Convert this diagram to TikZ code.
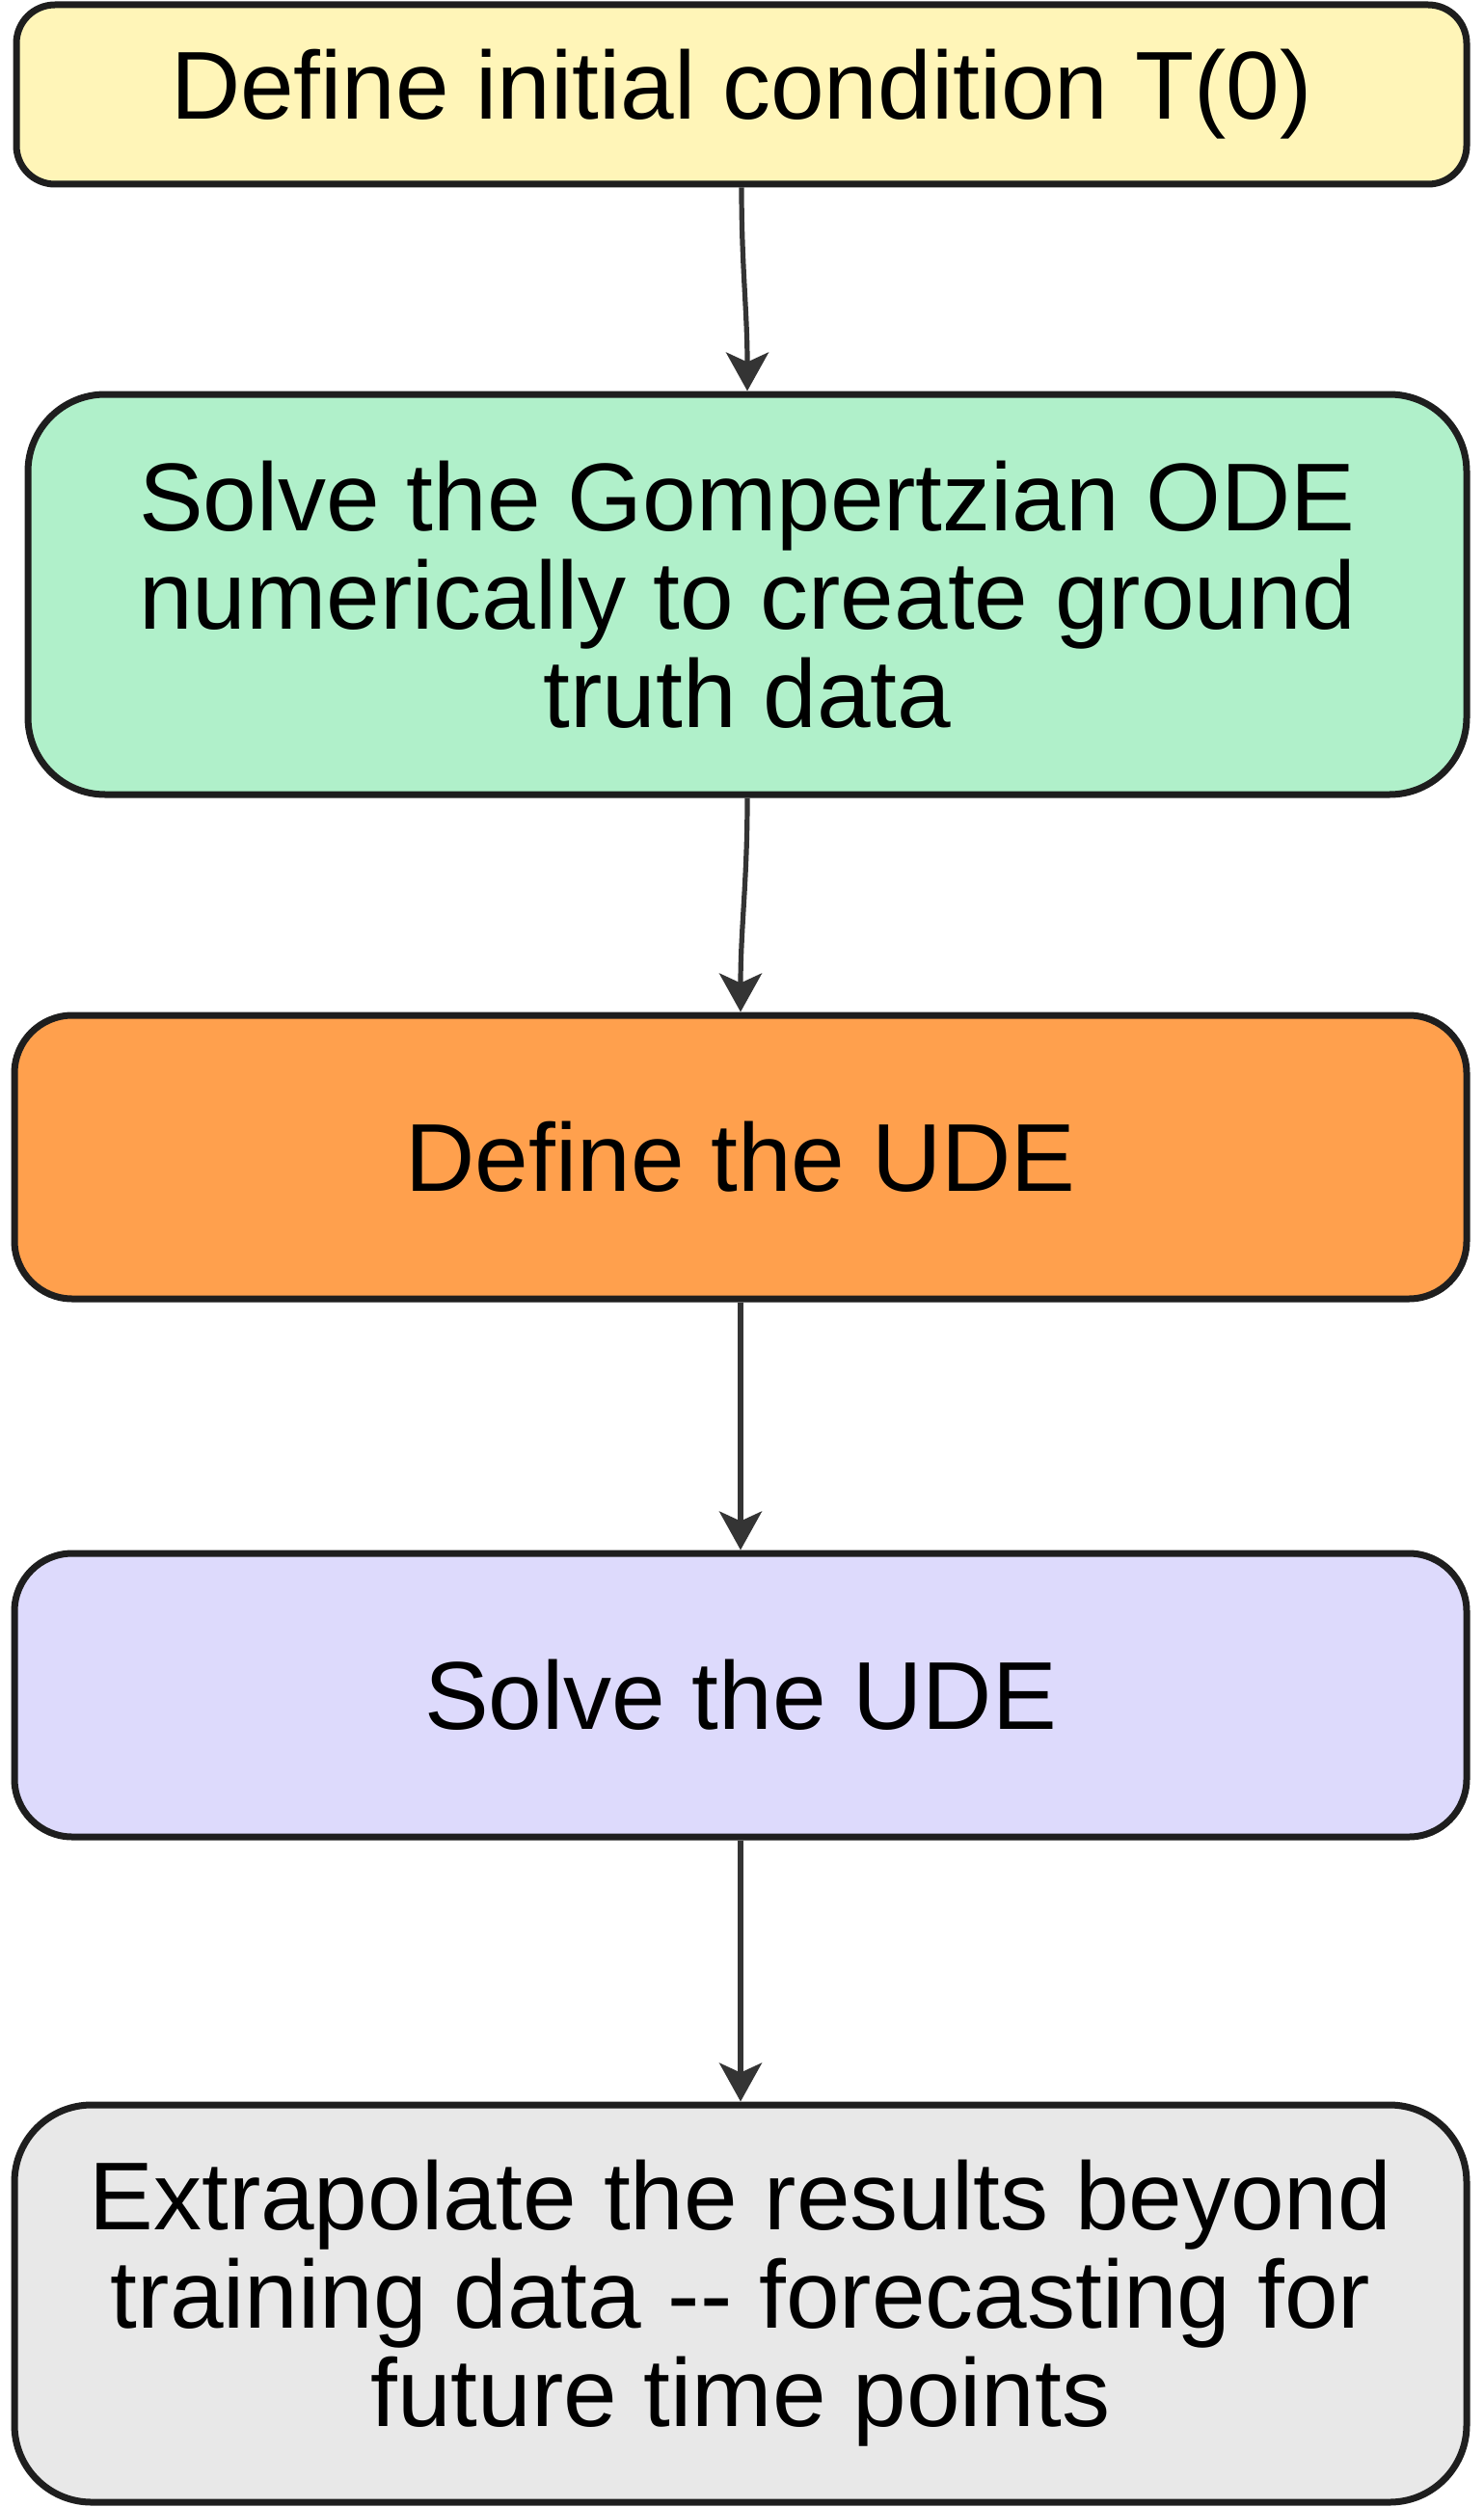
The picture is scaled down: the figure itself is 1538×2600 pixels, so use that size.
\documentclass[tikz,border=0pt]{standalone}
\usepackage{fontspec}
\setmainfont{Liberation Sans}
\usetikzlibrary{arrows.meta}
\definecolor{ink}{HTML}{1E1E1E}
\definecolor{arrowink}{HTML}{343434}
\definecolor{fyellow}{HTML}{FFF5B8}
\definecolor{fgreen}{HTML}{B0F0CA}
\definecolor{forange}{HTML}{FFA04D}
\definecolor{fviolet}{HTML}{DDDAFC}
\definecolor{fgrey}{HTML}{E8E8E8}
\tikzset{
  box/.style={draw=ink, line width=3.5pt, align=center, text=black,
    font=\fontsize{50}{51}\selectfont, inner sep=0pt},
  arr/.style={draw=arrowink, line width=2.6pt,
    -{Stealth[length=20pt,width=22pt,inset=5pt]}},
}
\begin{document}
\begin{tikzpicture}[x=0.5pt,y=-0.5pt]
\useasboundingbox (0,0) rectangle (1538,2600);
\node[box, fill=fyellow, rounded corners=20pt, minimum width=752pt, minimum height=93pt] (b1) at (769,98) {Define initial condition T(0)};
\node[box, fill=fgreen, rounded corners=40pt, minimum width=746pt, minimum height=207.5pt] (b2) at (775,616.5) {Solve the Gompertzian ODE\\numerically to create ground\\truth data};
\node[box, fill=forange, rounded corners=30pt, minimum width=753pt, minimum height=147pt] (b3) at (768,1200) {Define the UDE};
\node[box, fill=fviolet, rounded corners=30pt, minimum width=753pt, minimum height=147pt] (b4) at (768,1758) {Solve the UDE};
\node[box, fill=fgrey, rounded corners=40pt, minimum width=753pt, minimum height=206pt] (b5) at (768,2389) {Extrapolate the results beyond\\training data -{}- forecasting for\\future time points};
\draw[arr] (b1.south) to[out=-90,in=90] (b2.north);
\draw[arr] (b2.south) to[out=-90,in=90] (b3.north);
\draw[arr] (b3.south) -- (b4.north);
\draw[arr] (b4.south) -- (b5.north);
\end{tikzpicture}
\end{document}
